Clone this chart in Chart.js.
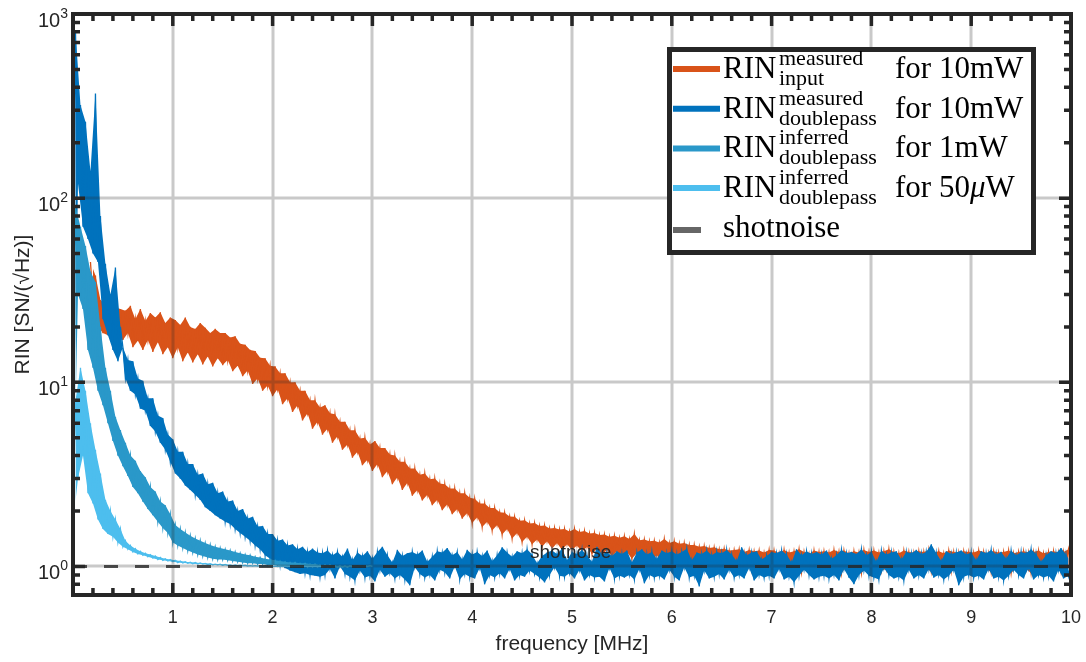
<!DOCTYPE html>
<html>
<head>
<meta charset="utf-8">
<title>RIN</title>
<script src="https://cdn.jsdelivr.net/npm/chart.js@4.4.1/dist/chart.umd.min.js"></script>
<style>
  html, body { margin: 0; padding: 0; background: #fff; overflow: hidden; }
  canvas { display: block; }
</style>
</head>
<body>
<canvas id="rinChart" width="1086" height="662"></canvas>
<script>
// frequency grid of the traces, in MHz
const freqStep = 0.025;
const orangeStartIndex = 7;

// RIN measured input, 10 mW (starts at 0.175 MHz)
const rinInput = [
  45, 28, 38, 20, 28, 18.5, 26.5, 18, 26, 17.5, 25.5, 17.2, 25,
  17, 24.5, 18.5, 26, 15.5, 22, 16.8, 25, 15, 21.5, 17, 23.8, 14.6, 22.5, 16.5, 24, 14.2, 21, 15.5, 22.5,
  13.5, 21.8, 15.5, 20.5, 13, 22.5, 14.5, 20, 12.8, 19.5, 14.2, 21, 12.5, 19.8, 13.8, 18.5, 12.2, 19.5, 13.5, 18.5,
  12.4, 18.5, 13.2, 17.5, 11.5, 17.8, 12.3, 16.2, 10.8, 16, 11.6, 15, 9.8, 14.8, 10.5, 13.6, 9, 13.5, 9.6, 12.3,
  8.4, 12.2, 9.2, 11.2, 7.6, 11.2, 8.2, 10, 6.9, 10, 7.5, 9, 6.2, 9, 6.8, 8, 5.6, 8, 6.1, 7.3,
  5.2, 7.5, 5.6, 6.8, 4.7, 6.7, 5.1, 6.1, 4.3, 6.1, 4.6, 5.5, 3.9, 5.5, 4.2, 4.95, 3.55, 5.0, 3.8, 4.6,
  3.3, 4.8, 3.6, 4.4, 3.05, 4.4, 3.3, 4.05, 2.8, 4.0, 3.05, 3.7, 2.6, 3.7, 2.85, 3.4, 2.42, 3.4, 2.6, 3.15,
  2.28, 3.2, 2.45, 2.98, 2.15, 3.0, 2.3, 2.82, 2.02, 2.8, 2.18, 2.65, 1.92, 2.65, 2.05, 2.5, 1.82, 2.5, 1.95, 2.36,
  1.72, 2.33, 1.85, 2.2, 1.64, 2.2, 1.75, 2.08, 1.57, 2.08, 1.68, 1.97, 1.49, 1.96, 1.6, 1.87, 1.42, 1.86, 1.52, 1.77,
  1.36, 1.78, 1.45, 1.71, 1.32, 1.72, 1.4, 1.66, 1.28, 1.67, 1.37, 1.61, 1.25, 1.62, 1.34, 1.59, 1.23, 1.6, 1.32, 1.55,
  1.23, 1.6, 1.3, 1.54, 1.2, 1.56, 1.28, 1.51, 1.17, 1.52, 1.25, 1.48, 1.15, 1.49, 1.23, 1.45, 1.13, 1.47, 1.21, 1.43,
  1.12, 1.46, 1.2, 1.41, 1.1, 1.5, 1.18, 1.39, 1.08, 1.4, 1.16, 1.37, 1.07, 1.38, 1.15, 1.35, 1.06, 1.41, 1.13, 1.34,
  1.05, 1.37, 1.12, 1.33, 1.03, 1.34, 1.1, 1.31, 1.01, 1.31, 1.09, 1.28, 1.0, 1.29, 1.07, 1.26, 0.99, 1.27, 1.06, 1.24,
  0.99, 1.25, 1.04, 1.22, 0.98, 1.23, 1.03, 1.24, 0.97, 1.2, 1.02, 1.23, 0.96, 1.21, 1.01, 1.22, 0.95, 1.19, 1.0, 1.23,
  0.95, 1.22, 1.0, 1.18, 0.96, 1.23, 0.99, 1.19, 0.95, 1.21, 1.0, 1.24, 0.93, 1.2, 0.99, 1.17, 0.94, 1.22, 0.98, 1.2,
  0.94, 1.21, 0.99, 1.19, 0.93, 1.23, 0.98, 1.2, 0.92, 1.22, 1.0, 1.18, 0.93, 1.21, 0.98, 1.19, 0.92, 1.23, 0.99, 1.2,
  0.93, 1.22, 0.98, 1.19, 0.95, 1.21, 0.97, 1.24, 0.94, 1.2, 0.97, 1.18, 0.94, 1.22, 0.98, 1.2, 0.95, 1.19, 0.97, 1.21,
  0.94, 1.2, 0.97, 1.23, 0.94, 1.19, 0.98, 1.21, 0.95, 1.18, 0.97, 1.22, 0.94, 1.2, 0.96, 1.19, 0.94, 1.21, 0.98, 1.2,
  0.93, 1.19, 0.98, 1.22, 0.92, 1.2, 0.97, 1.18, 0.93, 1.21, 0.99, 1.19, 0.93, 1.2, 0.97, 1.22, 0.92, 1.18, 0.98, 1.2,
  0.93, 1.21, 0.97, 1.19, 0.92, 1.2, 0.98, 1.22, 0.93, 1.18, 0.97, 1.2, 0.93, 1.21, 0.96, 1.19, 0.94, 1.2, 0.97, 1.24,
  1.05
];

// RIN measured double pass, 10 mW
const rinDouble10mW = [
  1.7, 800, 120, 320, 70, 260, 60, 140, 50, 370, 45, 80, 22, 44, 18, 30, 15, 42, 13, 20,
  15.5, 10.5, 13.2, 9.0, 13.0, 8.6, 10.5, 7.2, 10.2, 7.0, 8.2, 5.8, 8.2, 5.4, 6.6, 4.7, 6.4, 4.3, 5.2, 3.7,
  4.9, 3.2, 4.2, 3.0, 4.2, 2.75, 3.6, 2.6, 3.6, 2.45, 3.15, 2.3, 3.2, 2.1, 2.8, 2.0, 2.85, 1.9, 2.5, 1.82,
  2.55, 1.75, 2.25, 1.7, 2.28, 1.6, 2.0, 1.52, 2.05, 1.45, 1.82, 1.38, 1.86, 1.3, 1.65, 1.24, 1.66, 1.15, 1.5, 1.1,
  1.5, 1.04, 1.38, 1.02, 1.4, 0.98, 1.3, 0.95, 1.32, 0.93, 1.24, 0.91, 1.28, 0.92, 1.2, 0.9, 1.25, 0.89, 1.19, 0.88,
  1.18, 0.9, 1.22, 0.97, 1.15, 0.86, 1.2, 1.0, 1.13, 0.91, 1.25, 0.88, 1.08, 0.84, 1.19, 0.95, 1.14, 0.87, 1.21, 0.89,
  1.1, 0.83, 1.2, 0.96, 1.28, 0.88, 1.15, 0.92, 1.05, 0.86, 1.23, 0.9, 1.14, 0.85, 1.18, 0.79, 1.2, 0.99, 1.16, 0.91,
  1.22, 0.87, 1.06, 0.9, 1.13, 0.84, 1.21, 0.96, 1.19, 0.93, 1.26, 0.86, 1.15, 1.0, 1.2, 0.85, 1.09, 0.91, 1.23, 0.88,
  1.16, 0.86, 1.2, 0.98, 1.14, 0.8, 1.22, 0.9, 1.07, 0.87, 1.15, 0.92, 1.27, 0.86, 1.19, 0.97, 1.13, 0.84, 1.21, 0.9,
  1.18, 0.88, 1.24, 0.95, 1.16, 0.91, 1.04, 0.87, 1.14, 0.82, 1.19, 0.9, 1.22, 0.99, 1.17, 0.89, 1.25, 0.88, 1.08, 0.92,
  1.2, 0.86, 1.17, 0.96, 1.23, 0.84, 1.15, 0.9, 1.06, 0.87, 1.28, 0.88, 1.16, 0.83, 1.2, 0.98, 1.14, 0.86, 1.21, 0.89,
  1.17, 0.87, 1.22, 0.9, 1.05, 0.85, 1.19, 0.97, 1.24, 0.81, 1.16, 0.9, 1.2, 0.87, 1.1, 0.89, 1.22, 0.85, 1.18, 0.96,
  1.21, 0.88, 1.16, 0.84, 1.2, 0.99, 1.25, 0.87, 1.08, 0.89, 1.19, 0.78, 1.17, 0.95, 1.22, 0.86, 1.15, 0.88, 1.2, 0.91,
  1.18, 0.85, 1.23, 0.96, 1.16, 0.87, 1.07, 0.9, 1.27, 0.86, 1.15, 0.98, 1.19, 0.84, 1.21, 0.9, 1.09, 0.87, 1.14, 0.89,
  1.2, 0.86, 1.18, 0.97, 1.22, 0.85, 1.16, 0.88, 1.05, 0.82, 1.24, 0.89, 1.15, 0.96, 1.21, 0.9, 1.17, 0.85, 1.2, 0.88,
  1.16, 0.89, 1.22, 0.86, 1.1, 0.9, 1.15, 0.84, 1.23, 0.97, 1.18, 0.87, 1.2, 0.8, 1.17, 0.9, 1.24, 0.95, 1.15, 0.89,
  1.2, 0.87, 1.06, 0.85, 1.22, 0.98, 1.16, 0.9, 1.19, 0.86, 1.21, 0.88, 1.09, 0.84, 1.2, 0.96, 1.18, 0.86, 1.23, 0.9,
  1.17, 0.86, 1.2, 0.97, 1.32, 0.87, 1.18, 0.9, 1.07, 0.85, 1.21, 0.89, 1.17, 0.96, 1.19, 0.79, 1.22, 0.88, 1.16, 0.9,
  1.19, 0.87, 1.08, 0.89, 1.21, 0.85, 1.18, 0.97, 1.23, 0.86, 1.16, 0.88, 1.2, 0.84, 1.1, 0.89, 1.22, 0.96, 1.15, 0.9,
  1.2, 0.86, 1.18, 0.98, 1.24, 0.85, 1.17, 0.9, 1.06, 0.87, 1.15, 0.89, 1.21, 0.83, 1.18, 0.96, 1.26, 0.86, 1.16, 0.89,
  1.05
];

// RIN inferred double pass, 1 mW
const rinDouble1mW = [
  1.7, 90, 30, 70, 25, 55, 15, 40, 12, 35, 9, 20, 7.5, 12, 6, 9, 4.8, 6.5, 4.0, 5.5,
  3.5, 4.7, 3.1, 4.0, 2.7, 3.75, 2.5, 3.3, 2.25, 3.05, 2.05, 2.7, 1.9, 2.55, 1.75, 2.25, 1.62, 2.15, 1.52, 1.92,
  1.35, 1.68, 1.3, 1.6, 1.26, 1.53, 1.22, 1.47, 1.19, 1.42, 1.16, 1.38, 1.14, 1.34, 1.12, 1.31, 1.1, 1.28, 1.09, 1.26,
  1.09, 1.24, 1.08, 1.22, 1.07, 1.2, 1.06, 1.18, 1.05, 1.16, 1.04, 1.15, 1.04, 1.13, 1.03, 1.12, 1.03, 1.1, 1.02, 1.09,
  1.02, 1.08, 1.01, 1.07, 1.01, 1.06, 1.0, 1.05, 1.0, 1.05, 1.0, 1.04, 1.0, 1.04, 0.99, 1.03, 0.99, 1.03, 0.99, 1.02,
  0.99, 1.02, 0.99, 1.02, 0.99, 1.01, 0.99, 1.01, 0.99, 1.01, 0.99, 1.01, 1.0, 1.01, 1.0, 1.01, 1.0, 1.01, 1.0, 1.01,
  1.0
];

// RIN inferred double pass, 50 uW
const rinDouble50uW = [
  1.7, 8, 3, 12, 4, 9, 2.5, 6, 2.2, 4.3, 1.8, 3.2, 1.6, 2.3, 1.5, 2.0, 1.45, 1.8, 1.35, 1.6,
  1.28, 1.38, 1.24, 1.3, 1.2, 1.25, 1.17, 1.21, 1.15, 1.18, 1.13, 1.16, 1.11, 1.14, 1.09, 1.12, 1.08, 1.1, 1.07, 1.09,
  1.06, 1.08, 1.05, 1.07, 1.045, 1.06, 1.04, 1.055, 1.035, 1.05, 1.03, 1.045, 1.03, 1.04, 1.025, 1.035, 1.02, 1.03, 1.02, 1.03,
  1.015, 1.025, 1.015, 1.02, 1.01, 1.02, 1.01, 1.015, 1.01, 1.015, 1.005, 1.01, 1.005, 1.01, 1.005, 1.01, 1.0, 1.01, 1.0, 1.005,
  1.0, 1.005, 1.0, 1.005, 1.0, 1.005, 1.0, 1.0, 1.0, 1.005, 1.0, 1.0, 1.0, 1.0, 1.0, 1.0, 1.0, 1.0, 1.0, 1.0,
  1.0
];

// shot noise level
const shotNoiseFreq = [0, 10];
const shotNoiseLevel = [1, 1];

// axes
const xTickValues = [1, 2, 3, 4, 5, 6, 7, 8, 9, 10];
const xTickLabels = ['1', '2', '3', '4', '5', '6', '7', '8', '9', '10'];
const yDecades = [1, 10, 100, 1000];
const yExponents = ['0', '1', '2', '3'];

// legend text
const legendSup = ['measured', 'measured', 'inferred', 'inferred'];
const legendSub = ['input', 'doublepass', 'doublepass', 'doublepass'];
const legendPower = ['10mW', '10mW', '1mW', '50μW'];

const colorInput = '#D95319';
const colorDouble10 = '#0072BD';
const colorDouble1 = '#2A98C9';
const colorDouble50 = '#4DBEEE';
const ink = '#262626';
const sansFont = '"Liberation Sans", Arial, sans-serif';
const serifFont = '"Liberation Serif", "Times New Roman", serif';

function toPoints(values, startIndex) {
  return values.map((v, i) => ({ x: (startIndex + i) * freqStep, y: v }));
}

// a noisy trace: the raw line plus a fill between its alternate samples,
// so the dense noise reads as a solid band like the measured spectrum
function traceDatasets(label, values, startIndex, color, order, width) {
  const pts = toPoints(values, startIndex);
  const common = { pointRadius: 0, tension: 0, clip: 0 };
  return [
    Object.assign({ label: label, data: pts, borderColor: color, borderWidth: width,
      fill: false, order: order }, common),
    Object.assign({ label: label + ' a', data: pts.filter((p, i) => i % 2 === 0),
      borderWidth: 0, borderColor: color, fill: false, order: order + 0.2 }, common),
    Object.assign({ label: label + ' b', data: pts.filter((p, i) => i % 2 === 1),
      borderWidth: 0, borderColor: color, backgroundColor: color, fill: '-1', order: order + 0.1 }, common)
  ];
}

const decorations = {
  id: 'decorations',
  afterDatasetsDraw(chart) {
    const { ctx, chartArea: a, scales } = chart;
    const xs = scales.x, ys = scales.y;
    ctx.save();

    // grid lines over the data
    ctx.strokeStyle = 'rgba(38,38,38,0.25)';
    ctx.lineWidth = 3;
    ctx.beginPath();
    for (const v of xTickValues) {
      if (v >= 10) continue;
      const px = Math.round(xs.getPixelForValue(v));
      ctx.moveTo(px, a.top); ctx.lineTo(px, a.bottom);
    }
    for (const d of yDecades) {
      if (d >= 1000) continue;
      const py = Math.round(ys.getPixelForValue(d));
      ctx.moveTo(a.left, py); ctx.lineTo(a.right, py);
    }
    ctx.stroke();

    // frame and inward ticks
    ctx.strokeStyle = ink;
    ctx.lineWidth = 3.5;
    ctx.beginPath();
    for (let k = 1; k < 50; k++) {
      const px = xs.getPixelForValue(k * 0.2);
      const len = (k % 5 === 0) ? 12 : 7;
      ctx.moveTo(px, a.bottom); ctx.lineTo(px, a.bottom - len);
      ctx.moveTo(px, a.top); ctx.lineTo(px, a.top + len);
    }
    const yMinor = [0.8, 0.9];
    for (const d of [1, 10, 100]) for (let m = 2; m <= 9; m++) yMinor.push(d * m);
    for (const v of yMinor) {
      const py = ys.getPixelForValue(v);
      ctx.moveTo(a.left, py); ctx.lineTo(a.left + 7, py);
      ctx.moveTo(a.right, py); ctx.lineTo(a.right - 7, py);
    }
    for (const d of yDecades) {
      const py = ys.getPixelForValue(d);
      ctx.moveTo(a.left, py); ctx.lineTo(a.left + 12, py);
      ctx.moveTo(a.right, py); ctx.lineTo(a.right - 12, py);
    }
    ctx.stroke();
    ctx.lineWidth = 4;
    ctx.strokeRect(a.left, a.top, a.right - a.left, a.bottom - a.top);

    // tick labels
    ctx.fillStyle = ink;
    ctx.font = '18px ' + sansFont;
    ctx.textAlign = 'center';
    ctx.textBaseline = 'alphabetic';
    xTickValues.forEach((v, i) => {
      ctx.fillText(xTickLabels[i], xs.getPixelForValue(v), a.bottom + 28);
    });
    yDecades.forEach((d, i) => {
      const py = ys.getPixelForValue(d);
      ctx.font = '14px ' + sansFont;
      const ew = ctx.measureText(yExponents[i]).width;
      ctx.textAlign = 'left';
      ctx.fillText(yExponents[i], 68 - ew, py + 4);
      ctx.font = '20px ' + sansFont;
      ctx.textAlign = 'right';
      ctx.fillText('10', 68 - ew, py + 13);
    });

    // axis titles
    ctx.font = '21px ' + sansFont;
    ctx.textAlign = 'center';
    ctx.fillText('frequency [MHz]', (a.left + a.right) / 2, 650);
    ctx.save();
    ctx.translate(29, (a.top + a.bottom) / 2);
    ctx.rotate(-Math.PI / 2);
    ctx.fillText('RIN [SN/(√Hz)]', 0, 0);
    ctx.restore();

    // shot noise annotation
    ctx.font = '19px ' + sansFont;
    ctx.textAlign = 'left';
    ctx.fillText('shotnoise', 530, 558);

    // legend box
    const lx = 667, ly = 47, lw = 369, lh = 208;
    ctx.fillStyle = '#fff';
    ctx.fillRect(lx, ly, lw, lh);
    ctx.lineWidth = 5;
    ctx.strokeStyle = ink;
    ctx.strokeRect(lx + 2.5, ly + 2.5, lw - 5, lh - 5);

    const colors = [colorInput, colorDouble10, colorDouble1, colorDouble50];
    for (let k = 0; k < 4; k++) {
      const base = 78 + 39.7 * k;
      ctx.strokeStyle = colors[k];
      ctx.lineWidth = 6;
      ctx.beginPath();
      ctx.moveTo(673, base - 9); ctx.lineTo(720, base - 9);
      ctx.stroke();
      ctx.fillStyle = '#000';
      ctx.textAlign = 'left';
      ctx.font = '31px ' + serifFont;
      ctx.fillText('RIN', 723, base);
      ctx.font = '22px ' + serifFont;
      ctx.fillText(legendSup[k], 779, base - 13);
      ctx.fillText(legendSub[k], 779, base + 7);
      ctx.font = '31px ' + serifFont;
      const parts = legendPower[k].split('μ');
      let tx = 895;
      const first = 'for ' + parts[0];
      ctx.fillText(first, tx, base);
      tx += ctx.measureText(first).width;
      if (parts.length > 1) {
        ctx.font = 'italic 31px ' + serifFont;
        ctx.fillText('μ', tx, base);
        tx += ctx.measureText('μ').width;
        ctx.font = '31px ' + serifFont;
        ctx.fillText(parts[1], tx, base);
      }
    }
    ctx.strokeStyle = '#666';
    ctx.lineWidth = 6;
    ctx.beginPath();
    ctx.moveTo(673, 230); ctx.lineTo(701, 230);
    ctx.stroke();
    ctx.fillStyle = '#000';
    ctx.font = '31px ' + serifFont;
    ctx.fillText('shotnoise', 723, 237);

    ctx.restore();
  }
};

const datasets = [
  { label: 'shotnoise', data: shotNoiseFreq.map((f, i) => ({ x: f, y: shotNoiseLevel[i] })),
    borderColor: 'rgba(38,38,38,0.8)', borderDash: [14, 17], borderWidth: 3,
    pointRadius: 0, fill: false, order: 0 }
].concat(
  traceDatasets('RIN inferred doublepass 50uW', rinDouble50uW, 0, colorDouble50, 1, 1.3),
  traceDatasets('RIN inferred doublepass 1mW', rinDouble1mW, 0, colorDouble1, 2, 1.3),
  traceDatasets('RIN measured doublepass 10mW', rinDouble10mW, 0, colorDouble10, 3, 1.3),
  traceDatasets('RIN measured input 10mW', rinInput, orangeStartIndex, colorInput, 4, 1.3)
);

new Chart(document.getElementById('rinChart'), {
  type: 'line',
  data: { datasets: datasets },
  options: {
    responsive: false,
    animation: false,
    devicePixelRatio: 1,
    events: [],
    layout: { padding: { left: 73, right: 15, top: 14, bottom: 67 } },
    scales: {
      x: { type: 'linear', min: 0, max: 10, display: false },
      y: { type: 'logarithmic', min: 0.7, max: 1000, display: false }
    },
    plugins: { legend: { display: false }, tooltip: { enabled: false } }
  },
  plugins: [decorations]
});
</script>
</body>
</html>
